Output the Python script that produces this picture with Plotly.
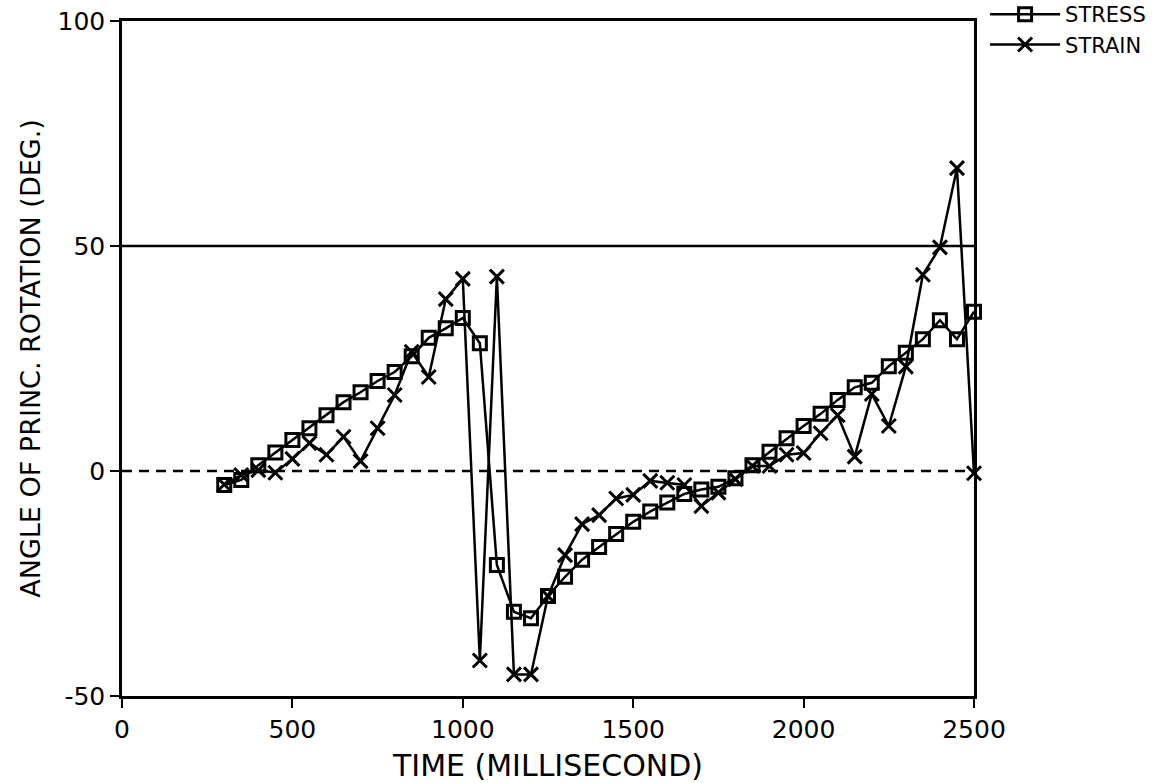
import plotly.graph_objects as go

# Time stamps (ms) shared by both series
time_ms = [300, 350, 400, 450, 500, 550, 600, 650, 700, 750, 800, 850, 900, 950,
           1000, 1050, 1100, 1150, 1200, 1250, 1300, 1350, 1400, 1450, 1500, 1550,
           1600, 1650, 1700, 1750, 1800, 1850, 1900, 1950, 2000, 2050, 2100, 2150,
           2200, 2250, 2300, 2350, 2400, 2450, 2500]

# Angle of principal rotation (deg.)
stress_deg = [-3.1, -2.0, 1.3, 4.1, 6.9, 9.5, 12.4, 15.3, 17.5, 20.0, 22.0, 25.5,
              29.6, 31.7, 34.0, 28.4, -20.9, -31.3, -32.7, -27.8, -23.5, -19.7,
              -16.9, -14.0, -11.3, -9.0, -7.0, -5.1, -4.1, -3.5, -1.6, 1.3, 4.3,
              7.3, 10.0, 12.7, 15.8, 18.6, 19.6, 23.3, 26.3, 29.3, 33.5, 29.3, 35.4]

strain_deg = [-3.0, -0.9, 0.2, -0.4, 2.7, 6.2, 3.6, 7.6, 2.2, 9.5, 16.9, 26.5,
              20.9, 38.2, 42.7, -42.1, 43.2, -45.2, -45.2, -27.8, -18.7, -11.8,
              -9.8, -6.1, -5.3, -2.2, -2.6, -3.1, -7.8, -4.8, -1.8, 1.1, 1.1,
              3.6, 4.0, 8.4, 12.4, 3.2, 17.1, 10.0, 23.2, 43.6, 49.7, 67.3, -0.5]

x_ticks = [0, 500, 1000, 1500, 2000, 2500]
y_ticks = [-50, 0, 50, 100]
y_tick_text = ["-50", "0", "50", "100"]
ref_solid = 50
ref_dashed = 0

FONT = "DejaVu Sans"

fig = go.Figure()

fig.add_trace(go.Scatter(
    x=time_ms, y=stress_deg, name="STRESS", mode="lines+markers",
    cliponaxis=False,
    line=dict(color="black", width=2.5),
    marker=dict(symbol="square-open", size=13, color="black",
                line=dict(width=3, color="black")),
))
fig.add_trace(go.Scatter(
    x=time_ms, y=strain_deg, name="STRAIN", mode="lines+markers",
    cliponaxis=False,
    line=dict(color="black", width=2.5),
    marker=dict(symbol="x-thin-open", size=14, color="black",
                line=dict(width=3, color="black")),
))

# Reference lines
fig.add_shape(type="line", xref="paper", x0=0, x1=1, yref="y",
              y0=ref_solid, y1=ref_solid, line=dict(color="black", width=2.5),
              layer="below")
fig.add_shape(type="line", xref="paper", x0=0, x1=1, yref="y",
              y0=ref_dashed, y1=ref_dashed,
              line=dict(color="black", width=2.5, dash="10px,7px"),
              layer="below")

axis_common = dict(
    showgrid=False, zeroline=False, showline=True, linecolor="black",
    linewidth=2.5, mirror=True, ticks="outside", ticklen=9, tickwidth=2,
    tickcolor="black", tickfont=dict(family=FONT, size=25, color="black"),
)

fig.update_xaxes(
    range=[0, 2500], tickvals=x_ticks, ticktext=[str(v) for v in x_ticks],
    title=dict(text="TIME (MILLISECOND)", standoff=14,
               font=dict(family=FONT, size=30, color="black")),
    **axis_common,
)
fig.update_yaxes(
    range=[-50, 100], tickvals=y_ticks, ticktext=y_tick_text,
    title=dict(text="ANGLE OF PRINC. ROTATION (DEG.)", standoff=10,
               font=dict(family=FONT, size=27, color="black")),
    **axis_common,
)

fig.update_layout(
    width=1171, height=783,
    margin=dict(l=122, r=197, t=21, b=87, autoexpand=False),
    paper_bgcolor="white", plot_bgcolor="white",
    font=dict(family=FONT, color="black"),
    legend=dict(x=1.013, y=1.04, xanchor="left", yanchor="top",
                itemwidth=70,
                font=dict(family=FONT, size=21, color="black"),
                bgcolor="rgba(0,0,0,0)", tracegroupgap=0),
    showlegend=True,
)

fig.write_html("out.html")
